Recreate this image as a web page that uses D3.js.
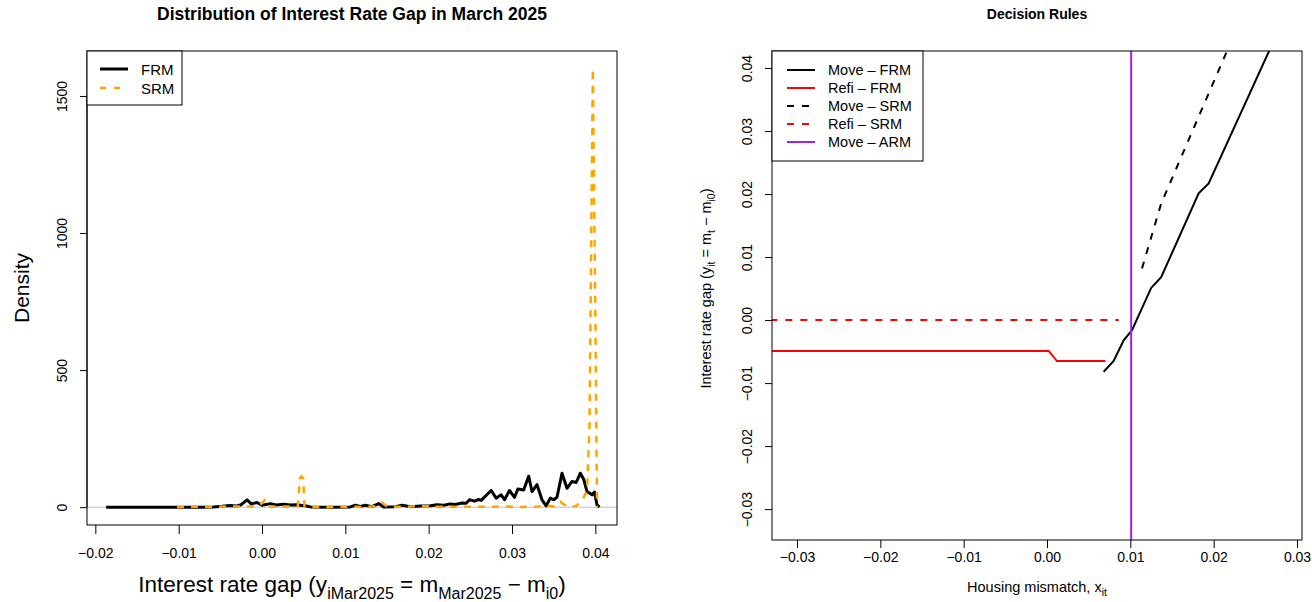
<!DOCTYPE html>
<html lang="en">
<head>
<meta charset="UTF-8">
<title>Interest Rate Gap and Decision Rules</title>
<script src="https://d3js.org/d3.v7.min.js"></script>
<style>
  body { margin: 0; background: #fff; }
  svg { font-family: "Liberation Sans", Arial, Helvetica, sans-serif; }
  svg text { fill: #000; }
</style>
</head>
<body>
<div id="chart"></div>
<script>
// ---- left panel: density of the rate gap in March 2025 ----
const frmGap = [-0.0187, -0.0134, -0.0074, -0.0058, -0.0048, -0.0038, -0.0031, -0.0025, -0.0018, -0.0013,
  -0.0006, 0.0000, 0.0010, 0.0017, 0.0026, 0.0034, 0.0041, 0.0046, 0.0052, 0.0058,
  0.0082, 0.0106, 0.0112, 0.0118, 0.0124, 0.0132, 0.0140, 0.0146, 0.0160, 0.0168,
  0.0178, 0.0190, 0.0202, 0.0210, 0.0218, 0.0226, 0.0232, 0.0240, 0.0245, 0.0249,
  0.0255, 0.0260, 0.0263, 0.0271, 0.0275, 0.0281, 0.0287, 0.0291, 0.0297, 0.0303,
  0.0307, 0.0314, 0.0320, 0.0324, 0.0330, 0.0336, 0.0341, 0.0346, 0.0350, 0.0354,
  0.0360, 0.0366, 0.0372, 0.0377, 0.0382, 0.0386, 0.0390, 0.0396, 0.0399, 0.0402, 0.0405];
const frmDensity = [0, 0, 0, 1, 3, 6, 4, 9, 27, 12,
  17, 7, 13, 8, 11, 8, 9, 7, 5, 1,
  0, 1, 7, 3, 7, 2, 13, 1, 2, 7,
  2, 4, 5, 9, 7, 12, 10, 15, 14, 27,
  22, 28, 25, 49, 61, 33, 45, 27, 61, 36,
  66, 63, 113, 57, 82, 27, 5, 33, 27, 36,
  124, 69, 94, 90, 124, 102, 57, 45, 55, 8, 0];

const srmGap = [-0.0102, -0.0080, -0.0060, -0.0040, -0.0020, -0.0005, 0.0000, 0.0003, 0.0006, 0.0020,
  0.0035, 0.0043, 0.00455, 0.0047, 0.00495, 0.0051, 0.0060, 0.0080, 0.0100, 0.0120,
  0.0135, 0.0144, 0.0150, 0.0170, 0.0190, 0.0210, 0.0230, 0.0250, 0.0270, 0.0290,
  0.0310, 0.0330, 0.0340, 0.0350, 0.0358, 0.0366, 0.0372, 0.0378, 0.0385, 0.0390,
  0.0393, 0.0397, 0.0400, 0.0402];
const srmDensity = [0, 2, 1, 3, 2, 3, 15, 25, 3, 2,
  3, 4, 105, 112, 105, 3, 1, 0, 2, 1,
  3, 17, 2, 1, 4, 2, 1, 2, 1, 3,
  1, 2, 6, 3, 20, 2, 1, 6, 30, 60,
  300, 1600, 700, 0];

const leftXTicks = [-0.02, -0.01, 0, 0.01, 0.02, 0.03, 0.04];
const leftYTicks = [0, 500, 1000, 1500];

// ---- right panel: decision rules ----
const moveFrmX = [0.0068, 0.0080, 0.0092, 0.0102, 0.0125, 0.0137, 0.0182, 0.0194, 0.0280];
const moveFrmY = [-0.0082, -0.0065, -0.0032, -0.0016, 0.0051, 0.0068, 0.0201, 0.0217, 0.0466];
const refiFrmX = [-0.0350, 0.0002, 0.0012, 0.0070];
const refiFrmY = [-0.0049, -0.0049, -0.0065, -0.0065];
const moveSrmX = [0.0114, 0.0137, 0.0216, 0.0237];
const moveSrmY = [0.0082, 0.0185, 0.0427, 0.0493];
const refiSrmX = [-0.0350, 0.0086];
const refiSrmY = [0.0000, 0.0000];
const moveArmX = 0.0101;

const rightXTicks = [-0.03, -0.02, -0.01, 0, 0.01, 0.02, 0.03];
const rightYTicks = [-0.03, -0.02, -0.01, 0, 0.01, 0.02, 0.03, 0.04];

const svg = d3.select("#chart").append("svg")
  .attr("width", 1312)
  .attr("height", 602);

const fmt2 = d3.format(".2f");

// write a label that has subscripts, parts = [text, sub, text, sub, ...]
function richText(sel, parts, size, subSize) {
  parts.forEach((p, i) => {
    const sub = i % 2 === 1;
    sel.append("tspan")
      .attr("font-size", sub ? subSize : size)
      .attr("dy", sub ? size * 0.3 : (i > 0 ? -size * 0.3 : 0))
      .text(p);
  });
}

// ================= left panel =================
const L = { x0: 87, x1: 617, y0: 51, y1: 525 };

const xL = d3.scaleLinear().domain([-0.0210, 0.0426]).range([L.x0, L.x1]);
const yL = d3.scaleLinear().domain([-65, 1664]).range([L.y1, L.y0]);

svg.append("clipPath").attr("id", "clipL")
  .append("rect").attr("x", L.x0).attr("y", L.y0)
  .attr("width", L.x1 - L.x0).attr("height", L.y1 - L.y0);

const gL = svg.append("g");

// axes
const axL = gL.append("g")
  .attr("transform", `translate(0,${L.y1})`)
  .call(d3.axisBottom(xL).tickValues(leftXTicks).tickFormat(fmt2).tickSize(9).tickPadding(14));
axL.select(".domain").remove();
axL.selectAll("text").attr("font-size", 14).attr("font-family", null);

const ayL = gL.append("g")
  .attr("transform", `translate(${L.x0},0)`)
  .call(d3.axisLeft(yL).tickValues(leftYTicks).tickFormat(d3.format("d")).tickSize(7));
ayL.select(".domain").remove();
ayL.selectAll("text")
  .attr("font-size", 14).attr("font-family", null)
  .attr("x", 0).attr("dy", 0).attr("text-anchor", "middle")
  .attr("transform", "translate(-20,0) rotate(-90)");
gL.append("line")
  .attr("x1", L.x0).attr("x2", L.x0)
  .attr("y1", yL(leftYTicks[0])).attr("y2", yL(leftYTicks[leftYTicks.length - 1]))
  .attr("stroke", "#000");

// zero reference line
gL.append("line")
  .attr("x1", L.x0).attr("x2", L.x1)
  .attr("y1", yL(0)).attr("y2", yL(0))
  .attr("stroke", "#bebebe").attr("stroke-width", 1);

const lineL = d3.line().x(d => xL(d[0])).y(d => yL(d[1]));

gL.append("path")
  .datum(frmGap.map((g, i) => [g, frmDensity[i]]))
  .attr("clip-path", "url(#clipL)")
  .attr("fill", "none").attr("stroke", "#000")
  .attr("stroke-width", 3).attr("stroke-linejoin", "round")
  .attr("d", lineL);

gL.append("path")
  .datum(srmGap.map((g, i) => [g, srmDensity[i]]))
  .attr("clip-path", "url(#clipL)")
  .attr("fill", "none").attr("stroke", "#ffa500")
  .attr("stroke-width", 2.5).attr("stroke-dasharray", "7,7")
  .attr("d", lineL);

gL.append("rect")
  .attr("x", L.x0).attr("y", L.y0)
  .attr("width", L.x1 - L.x0).attr("height", L.y1 - L.y0)
  .attr("fill", "none").attr("stroke", "#000");

// legend
const legL = gL.append("g");
legL.append("rect")
  .attr("x", L.x0).attr("y", L.y0).attr("width", 95).attr("height", 54)
  .attr("fill", "#fff").attr("stroke", "#000");
[["FRM", "#000", null, 3], ["SRM", "#ffa500", "6,8", 2.5]].forEach((e, i) => {
  const y = 69 + i * 19;
  legL.append("line")
    .attr("x1", 100).attr("x2", 128).attr("y1", y).attr("y2", y)
    .attr("stroke", e[1]).attr("stroke-width", e[3])
    .attr("stroke-dasharray", e[2]);
  legL.append("text").attr("x", 141).attr("y", y + 5.5)
    .attr("font-size", 15).text(e[0]);
});

// titles and labels
svg.append("text")
  .attr("x", (L.x0 + L.x1) / 2).attr("y", 20)
  .attr("text-anchor", "middle").attr("font-size", 17.5).attr("font-weight", "bold")
  .text("Distribution of Interest Rate Gap in March 2025");

svg.append("text")
  .attr("transform", `translate(29,${(L.y0 + L.y1) / 2}) rotate(-90)`)
  .attr("text-anchor", "middle").attr("font-size", 21)
  .text("Density");

richText(
  svg.append("text")
    .attr("x", (L.x0 + L.x1) / 2).attr("y", 592)
    .attr("text-anchor", "middle"),
  ["Interest rate gap (y", "iMar2025", " = m", "Mar2025", " \u2212 m", "i0", ")"], 22.5, 16);

// ================= right panel =================
const R = { x0: 772, x1: 1302, y0: 51, y1: 540 };

const xR = d3.scaleLinear().domain([-0.0330, 0.0306]).range([R.x0, R.x1]);
const yR = d3.scaleLinear().domain([-0.0349, 0.0427]).range([R.y1, R.y0]);

svg.append("clipPath").attr("id", "clipR")
  .append("rect").attr("x", R.x0).attr("y", R.y0)
  .attr("width", R.x1 - R.x0).attr("height", R.y1 - R.y0);

const gR = svg.append("g");

const axR = gR.append("g")
  .attr("transform", `translate(0,${R.y1})`)
  .call(d3.axisBottom(xR).tickValues(rightXTicks).tickFormat(fmt2).tickSize(8).tickPadding(4));
axR.select(".domain").remove();
axR.selectAll("text").attr("font-size", 14).attr("font-family", null);

const ayR = gR.append("g")
  .attr("transform", `translate(${R.x0},0)`)
  .call(d3.axisLeft(yR).tickValues(rightYTicks).tickFormat(fmt2).tickSize(7));
ayR.select(".domain").remove();
ayR.selectAll("text")
  .attr("font-size", 14).attr("font-family", null)
  .attr("x", 0).attr("dy", 0).attr("text-anchor", "middle")
  .attr("transform", "translate(-20,0) rotate(-90)");

const lineR = d3.line().x(d => xR(d[0])).y(d => yR(d[1]));
const zip = (a, b) => a.map((v, i) => [v, b[i]]);

const rules = [
  { x: refiSrmX, y: refiSrmY, color: "#ff0000", dash: "7,8" },
  { x: refiFrmX, y: refiFrmY, color: "#ff0000", dash: null },
  { x: moveSrmX, y: moveSrmY, color: "#000", dash: "7,8" },
  { x: moveFrmX, y: moveFrmY, color: "#000", dash: null }
];
rules.forEach(r => {
  gR.append("path")
    .datum(zip(r.x, r.y))
    .attr("clip-path", "url(#clipR)")
    .attr("fill", "none").attr("stroke", r.color)
    .attr("stroke-width", 2).attr("stroke-dasharray", r.dash)
    .attr("d", lineR);
});

gR.append("line")
  .attr("x1", xR(moveArmX)).attr("x2", xR(moveArmX))
  .attr("y1", R.y0).attr("y2", R.y1)
  .attr("stroke", "#a020f0").attr("stroke-width", 2);

gR.append("rect")
  .attr("x", R.x0).attr("y", R.y0)
  .attr("width", R.x1 - R.x0).attr("height", R.y1 - R.y0)
  .attr("fill", "none").attr("stroke", "#000");

// legend
const legR = gR.append("g");
legR.append("rect")
  .attr("x", R.x0).attr("y", R.y0).attr("width", 151).attr("height", 110)
  .attr("fill", "#fff").attr("stroke", "#000");
[
  ["Move \u2013 FRM", "#000", null],
  ["Refi \u2013 FRM", "#ff0000", null],
  ["Move \u2013 SRM", "#000", "7,8"],
  ["Refi \u2013 SRM", "#ff0000", "7,8"],
  ["Move \u2013 ARM", "#a020f0", null]
].forEach((e, i) => {
  const y = 70 + i * 18;
  legR.append("line")
    .attr("x1", 787).attr("x2", 815).attr("y1", y).attr("y2", y)
    .attr("stroke", e[1]).attr("stroke-width", 2)
    .attr("stroke-dasharray", e[2]);
  legR.append("text").attr("x", 828).attr("y", y + 5)
    .attr("font-size", 14.5).text(e[0]);
});

svg.append("text")
  .attr("x", (R.x0 + R.x1) / 2).attr("y", 19)
  .attr("text-anchor", "middle").attr("font-size", 14).attr("font-weight", "bold")
  .text("Decision Rules");

richText(
  svg.append("text")
    .attr("transform", `translate(711,${(R.y0 + R.y1) / 2 - 7}) rotate(-90)`)
    .attr("text-anchor", "middle"),
  ["Interest rate gap (y", "it", " = m", "t", " \u2212 m", "i0", ")"], 14.5, 10.5);

richText(
  svg.append("text")
    .attr("x", (R.x0 + R.x1) / 2).attr("y", 592)
    .attr("text-anchor", "middle"),
  ["Housing mismatch, x", "it"], 14.5, 10.5);
</script>
</body>
</html>
